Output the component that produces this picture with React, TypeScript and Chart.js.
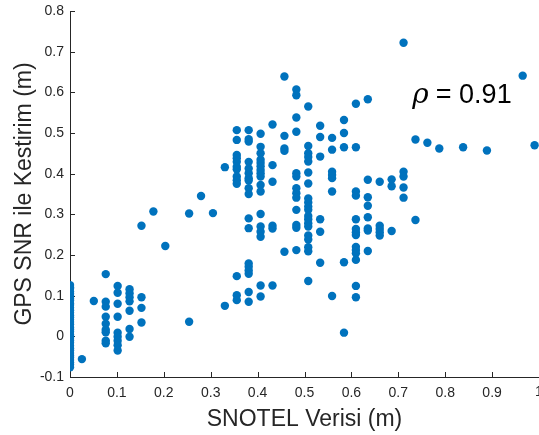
import React, { useEffect, useRef } from 'react';
import { Chart, registerables } from 'chart.js';

Chart.register(...registerables);

const X_TITLE = 'SNOTEL Verisi (m)';
const Y_TITLE = 'GPS SNR ile Kestirim (m)';
const RHO_VALUE = '0.91';
const rhoAnchor = [0.73, 0.575];

const xTickValues = [0, 0.1, 0.2, 0.3, 0.4, 0.5, 0.6, 0.7, 0.8, 0.9, 1];
const yTickValues = [-0.1, 0, 0.1, 0.2, 0.3, 0.4, 0.5, 0.6, 0.7, 0.8];

// SNOTEL snow depth (m), one entry per column of points
const snotelDepth = [
  0, 0.0254, 0.0508, 0.0762, 0.1016, 0.127, 0.1524, 0.1778, 0.2032, 0.254,
  0.2794, 0.3048, 0.3302, 0.3556, 0.381, 0.4064, 0.4318, 0.4572, 0.4826, 0.508,
  0.5334, 0.5588, 0.5842, 0.6096, 0.635, 0.6604, 0.6858, 0.7112, 0.7366, 0.762,
  0.7874, 0.8382, 0.889, 0.9652, 0.9906,
];

// GPS SNR estimates (m) for each SNOTEL depth above
const gpsEstimates = [
  [0.126, 0.121, 0.117, 0.11, 0.105, 0.1, 0.093, 0.088, 0.081, 0.077, 0.07, 0.064, 0.058, 0.052, 0.047, 0.041, 0.035, 0.03, 0.022, 0.017, 0.011, 0.004, 0, -0.004, -0.01, -0.016, -0.023, -0.029, -0.034, -0.041, -0.047, -0.052, -0.058, -0.064, -0.069, -0.076],
  [-0.056],
  [0.087],
  [0.153, 0.085, 0.073, 0.048, 0.031, 0.016, 0.01, -0.011, -0.017],
  [0.124, 0.107, 0.08, 0.048, 0.009, -0.001, -0.011, -0.022, -0.035],
  [0.116, 0.106, 0.096, 0.086, 0.063, 0.018, -0.001],
  [0.272, 0.096, 0.07, 0.034],
  [0.307],
  [0.222],
  [0.302, 0.036],
  [0.345],
  [0.303],
  [0.416, 0.075],
  [0.507, 0.483, 0.446, 0.438, 0.429, 0.417, 0.411, 0.393, 0.384, 0.375, 0.148, 0.101, 0.089],
  [0.507, 0.485, 0.479, 0.429, 0.413, 0.401, 0.389, 0.383, 0.364, 0.35, 0.29, 0.266, 0.179, 0.171, 0.162, 0.154, 0.109, 0.085],
  [0.498, 0.466, 0.45, 0.434, 0.426, 0.418, 0.409, 0.401, 0.393, 0.372, 0.356, 0.301, 0.27, 0.257, 0.245, 0.125, 0.098],
  [0.521, 0.421, 0.38, 0.272, 0.265, 0.125],
  [0.639, 0.493, 0.462, 0.456, 0.208],
  [0.607, 0.593, 0.538, 0.503, 0.401, 0.393, 0.364, 0.352, 0.341, 0.311, 0.274, 0.267, 0.212],
  [0.565, 0.468, 0.45, 0.441, 0.43, 0.403, 0.376, 0.339, 0.329, 0.319, 0.311, 0.296, 0.288, 0.278, 0.27, 0.248, 0.238, 0.219, 0.209, 0.136],
  [0.518, 0.49, 0.442, 0.288, 0.257, 0.181],
  [0.488, 0.459, 0.405, 0.397, 0.389, 0.356, 0.099],
  [0.532, 0.5, 0.465, 0.182, 0.009],
  [0.572, 0.465, 0.356, 0.346, 0.288, 0.264, 0.256, 0.249, 0.22, 0.212, 0.204, 0.188, 0.124, 0.096],
  [0.583, 0.385, 0.342, 0.321, 0.293, 0.265, 0.26, 0.21],
  [0.38, 0.272, 0.264, 0.256, 0.248],
  [0.386, 0.369, 0.259],
  [0.722, 0.405, 0.393, 0.366, 0.341],
  [0.484, 0.286],
  [0.476],
  [0.462],
  [0.465],
  [0.457],
  [0.641],
  [0.47],
];

const BLUE = '#0072BD';
const AXIS = '#262626';
const SANS = '"Liberation Sans", Arial, Helvetica, sans-serif';

const clearPadding = (axis: any) => {
  axis.paddingLeft = 0;
  axis.paddingRight = 0;
  axis.paddingTop = 0;
  axis.paddingBottom = 0;
};

export default function App() {
  const ref = useRef<HTMLCanvasElement>(null);

  useEffect(() => {
    document.body.style.margin = '0';
    const points = snotelDepth.flatMap((x, i) => gpsEstimates[i].map((y) => ({ x, y })));

    const decor = {
      id: 'decor',
      beforeDatasetsDraw(chart: any) {
        const { ctx, chartArea, scales } = chart;
        const xs = scales.x;
        const ys = scales.y;
        ctx.save();
        ctx.strokeStyle = AXIS;
        ctx.lineWidth = 1;
        ctx.beginPath();
        yTickValues.forEach((v) => {
          const py = Math.round(ys.getPixelForValue(v)) + 0.5;
          ctx.moveTo(chartArea.left, py);
          ctx.lineTo(chartArea.left + 5, py);
        });
        xTickValues.forEach((v) => {
          const px = Math.round(xs.getPixelForValue(v)) + 0.5;
          ctx.moveTo(px, chartArea.bottom);
          ctx.lineTo(px, chartArea.bottom - 5);
        });
        ctx.stroke();
        // last x tick label (runs off the edge of the figure)
        const last = xTickValues[xTickValues.length - 1];
        ctx.fillStyle = AXIS;
        ctx.font = `14px ${SANS}`;
        ctx.textAlign = 'center';
        ctx.textBaseline = 'top';
        ctx.fillText(String(last), xs.getPixelForValue(last), chartArea.bottom + 8);
        ctx.restore();
      },
      afterDraw(chart: any) {
        const { ctx, scales } = chart;
        const px = scales.x.getPixelForValue(rhoAnchor[0]);
        const py = scales.y.getPixelForValue(rhoAnchor[1]);
        ctx.save();
        ctx.fillStyle = '#000000';
        ctx.textBaseline = 'alphabetic';
        ctx.textAlign = 'left';
        ctx.font = `italic 28px "DejaVu Serif", "Liberation Serif", serif`;
        ctx.fillText('\u03C1', px, py);
        const w = ctx.measureText('\u03C1').width;
        ctx.font = `27px ${SANS}`;
        ctx.fillText('= ' + RHO_VALUE, px + w + 7, py);
        ctx.restore();
      },
    };

    const chart = new Chart(ref.current as HTMLCanvasElement, {
      type: 'scatter',
      data: {
        datasets: [
          {
            data: points,
            backgroundColor: BLUE,
            borderWidth: 0,
            pointRadius: 4.2,
            pointHoverRadius: 4.2,
          },
        ],
      },
      options: {
        animation: false,
        responsive: false,
        maintainAspectRatio: false,
        layout: { autoPadding: false, padding: { top: 11, left: 0, right: 0, bottom: 0 } },
        plugins: { legend: { display: false }, tooltip: { enabled: false } },
        scales: {
          x: {
            type: 'linear',
            min: 0,
            max: 1,
            afterBuildTicks: (axis: any) => {
              axis.ticks = xTickValues.map((value) => ({ value }));
            },
            afterFit: (axis: any) => {
              axis.height = 58;
              clearPadding(axis);
            },
            grid: { display: false, drawTicks: false },
            border: { display: true, color: AXIS, width: 1 },
            ticks: {
              padding: 8,
              color: AXIS,
              font: { family: SANS, size: 14 },
              maxRotation: 0,
              autoSkip: false,
              callback: (v: any) => (v === 1 ? '' : String(v)),
            },
            title: {
              display: true,
              text: X_TITLE,
              color: AXIS,
              font: { family: SANS, size: 23 },
              padding: { top: 0, bottom: 2 },
            },
          },
          y: {
            type: 'linear',
            min: -0.1,
            max: 0.8,
            afterBuildTicks: (axis: any) => {
              axis.ticks = yTickValues.map((value) => ({ value }));
            },
            afterFit: (axis: any) => {
              axis.width = 70;
              clearPadding(axis);
            },
            grid: { display: false, drawTicks: false },
            border: { display: true, color: AXIS, width: 1 },
            ticks: {
              padding: 6,
              color: AXIS,
              font: { family: SANS, size: 14 },
              autoSkip: false,
              callback: (v: any) => String(v),
            },
            title: {
              display: true,
              text: Y_TITLE,
              color: AXIS,
              font: { family: SANS, size: 23 },
              padding: { top: 11, bottom: 0 },
            },
          },
        },
      },
      plugins: [decor],
    });

    return () => chart.destroy();
  }, []);

  return (
    <div style={{ position: 'absolute', left: 0, top: 0, width: 539, height: 435 }}>
      <canvas ref={ref} width={539} height={435} style={{ display: 'block', width: 539, height: 435 }} />
    </div>
  );
}
